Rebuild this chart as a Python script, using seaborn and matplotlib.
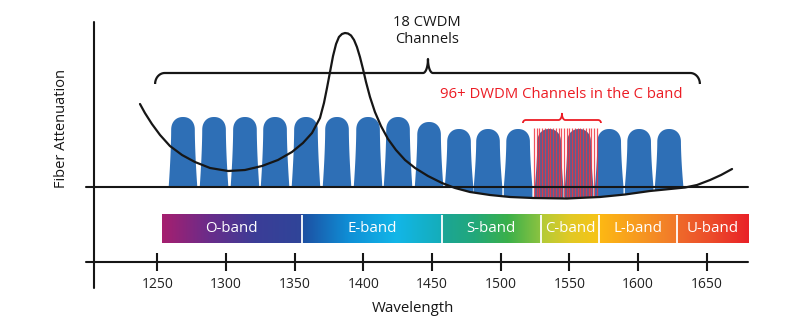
import numpy as np
import matplotlib
matplotlib.use("Agg")
import matplotlib.pyplot as plt
from matplotlib.colors import LinearSegmentedColormap
import seaborn as sns

sns.set_theme(style="white")
plt.rcParams['font.family'] = ['Open Sans', 'DejaVu Sans']

# ---------------- data ----------------
tick_values = [1250, 1300, 1350, 1400, 1450, 1500, 1550, 1600, 1650]
tick_labels = ["1250", "1300", "1350", "1400", "1450", "1500", "1550", "1600", "1650"]

band_names = ["O-band", "E-band", "S-band", "C-band", "L-band", "U-band"]
band_edges = [1253.2, 1355.1, 1457.0, 1529.0, 1571.5, 1628.0, 1679.7]

cwdm_centers = [1268.7, 1291.3, 1313.8, 1335.7, 1358.2, 1380.8, 1403.4, 1425.2,
                1447.8, 1469.6, 1490.7, 1512.6, 1535.2, 1557.0, 1578.9, 1600.7, 1622.5]
cwdm_heights = [69.7, 69.7, 69.7, 69.7, 69.7, 69.7, 69.7, 69.7,
                64.7, 57.7, 57.7, 57.7, 57.7, 57.7, 57.7, 57.7, 57.7]

atten_wl = [1237.4, 1241.0, 1246.1, 1252.0, 1259.2, 1268.0, 1277.4, 1288.4, 1301.5,
            1313.8, 1326.2, 1337.8, 1348.0, 1356.0, 1362.6, 1368.4,
            1371.3, 1373.5, 1375.7, 1377.9, 1380.1, 1382.2, 1384.4, 1386.6, 1388.8,
            1391.0, 1393.2, 1395.3, 1397.5, 1399.7, 1401.9, 1404.8, 1408.4, 1412.8,
            1417.9, 1423.7, 1430.3, 1437.6, 1447.0, 1457.2, 1466.7, 1477.6, 1492.1,
            1506.7, 1523.4, 1548.2, 1572.2, 1590.4, 1608.6, 1623.2, 1634.1, 1642.8,
            1652.3, 1660.3, 1668.3]
atten_val = [82.7, 73.7, 62.7, 51.7, 40.7, 31.7, 24.7, 18.7, 15.7,
             16.7, 20.7, 26.7, 34.7, 43.7, 53.7, 68.7,
             83.7, 98.7, 114.7, 130.7, 142.7, 149.7, 152.7, 153.7, 153.2,
             151.2, 146.7, 139.7, 129.7, 117.7, 104.7, 89.7, 74.7, 60.7,
             47.7, 36.7, 26.7, 18.7, 10.7, 3.7, -1.3, -5.3, -8.3,
             -10.3, -11.3, -11.8, -10.3, -7.8, -4.3, -2.3, -0.8, 1.7,
             6.7, 11.7, 17.7]

dwdm_channels = [1524, 1526, 1528, 1530, 1532, 1534, 1536, 1538, 1540, 1542, 1544, 1546,
                 1548, 1550, 1552, 1554, 1556, 1558, 1560, 1562, 1564, 1566, 1568, 1570]

# ---------------- style ----------------
band_gradients = [
    ["#a61f6f", "#6a2c8a", "#3b3d97", "#2f4599"],
    ["#1d4fa2", "#0f8fd6", "#12b6e8", "#15adb8"],
    ["#1ba597", "#22a87a", "#3bb04a", "#8cc340"],
    ["#b2cb38", "#e2c925", "#f8c316"],
    ["#fdb913", "#f79a20", "#f1772b"],
    ["#ef6b2b", "#ec4a2a", "#e92128"],
]
blob_color = "#2e6fb6"
blob_muted = "#5b5f91"
red = "#ec1c24"
ink = "#161616"

fig = plt.figure(figsize=(8, 3.34), dpi=100)
ax = fig.add_axes([0, 0, 1, 1])
ax.set_axis_off()

# ---------------- channel blobs ----------------
half_bottom = 10.4
half_top = 8.6
cap_h = 13.0
for c, h in zip(cwdm_centers, cwdm_heights):
    body_h = h - cap_h
    yb = np.linspace(0, body_h, 30)
    hw = half_top + (half_bottom - half_top) * (1 - yb / body_h) ** 1.6
    t = np.linspace(np.pi, 0, 50)
    n = 2.2
    cx = c + half_top * np.sign(np.cos(t)) * np.abs(np.cos(t)) ** (2 / n)
    cy = body_h + cap_h * np.abs(np.sin(t)) ** (2 / n)
    bx = np.linspace(c + half_bottom, c - half_bottom, 30)
    by = np.minimum(0, np.interp(bx, atten_wl, atten_val))
    xs = np.concatenate([c - hw, cx, (c + hw)[::-1], bx])
    ys = np.concatenate([yb, cy, yb[::-1], by])
    inside = min(dwdm_channels) <= c <= max(dwdm_channels)
    ax.fill(xs, ys, color=blob_muted if inside else blob_color, lw=0, zorder=2)

# DWDM lines
ax.vlines(dwdm_channels, -10.5, 58.5, color="#ee3340", lw=0.9, alpha=0.85, zorder=3)

# ---------------- axes lines ----------------
ax.plot([1198.1, 1679.7], [0, 0], color=ink, lw=1.5, zorder=4)
ax.plot([1198.1, 1679.7], [-75.3, -75.3], color=ink, lw=1.5, zorder=4)
ax.plot([1204.2, 1204.2], [-101.3, 164.7], color=ink, lw=1.5, zorder=4)
ax.vlines(tick_values, -84.0, -66.0, color=ink, lw=1.5, zorder=4)
for v, lab in zip(tick_values, tick_labels):
    ax.text(v, -97.6, lab, ha="center", va="center", fontsize=10, color="#222222")

# attenuation curve
sns.lineplot(x=atten_wl, y=atten_val, ax=ax, color=ink, lw=1.6, zorder=5)

# ---------------- bands ----------------
for i, name in enumerate(band_names):
    x0, x1 = band_edges[i], band_edges[i + 1]
    cmap = LinearSegmentedColormap.from_list("b%d" % i, band_gradients[i])
    grad = np.linspace(0, 1, 256).reshape(1, -1)
    ax.imshow(grad, cmap=cmap, extent=(x0, x1, -56.6, -28.3), aspect="auto",
              interpolation="bicubic", zorder=2)
    ax.text((x0 + x1) / 2, -42.0, name, ha="center", va="center",
            fontsize=10.8, color="white", zorder=6)
ax.vlines(band_edges[1:-1], -56.6, -28.3, color="white", lw=1.3, zorder=3)


# ---------------- braces ----------------
def brace(x0, x1, xm, y_line, y_end, y_tip, r_x, d_x, color, lw):
    t = np.linspace(0, np.pi / 2, 20)
    tr = t[::-1]
    lx = x0 + r_x * (1 - np.cos(t))
    ly = y_end + (y_line - y_end) * np.sin(t)
    tlx = xm - d_x + d_x * np.sin(t)
    tly = y_line + (y_tip - y_line) * (1 - np.cos(t))
    trx = xm + d_x * (1 - np.cos(t))
    try_ = y_tip - (y_tip - y_line) * np.sin(t)
    rx = x1 - r_x * (1 - np.cos(tr))
    ry = y_end + (y_line - y_end) * np.sin(tr)
    xs = np.concatenate([lx, tlx, trx, rx])
    ys = np.concatenate([ly, tly, try_, ry])
    ax.plot(xs, ys, color=color, lw=lw, solid_capstyle="butt", zorder=6)


brace(1248.4, 1644.9, 1447.0, 113.7, 102.7, 127.7, 7.0, 3.6, ink, 1.6)
brace(1516.1, 1572.9, 1544.5, 66.7, 63.7, 73.0, 2.2, 2.5, red, 1.3)

ax.text(1446.1, 155.7, "18 CWDM\nChannels", ha="center", va="center",
        fontsize=10.6, color=ink, linespacing=1.1, zorder=6)
ax.text(1544.3, 91.7, "96+ DWDM Channels in the C band", ha="center", va="center",
        fontsize=10.7, color=red, zorder=6)

ax.text(1436.1, -121.3, "Wavelength", ha="center", va="center", fontsize=10.8, color=ink)
ax.text(1135.5 + 61.7 / 1.374, 57.7, "Fiber Attenuation", ha="center", va="center",
        rotation=90, fontsize=10.5, color=ink)

ax.set_xlim(1135.52, 1717.76)
ax.set_ylim(-147.3, 186.7)

fig.savefig("out.png", dpi=100, facecolor="white")
